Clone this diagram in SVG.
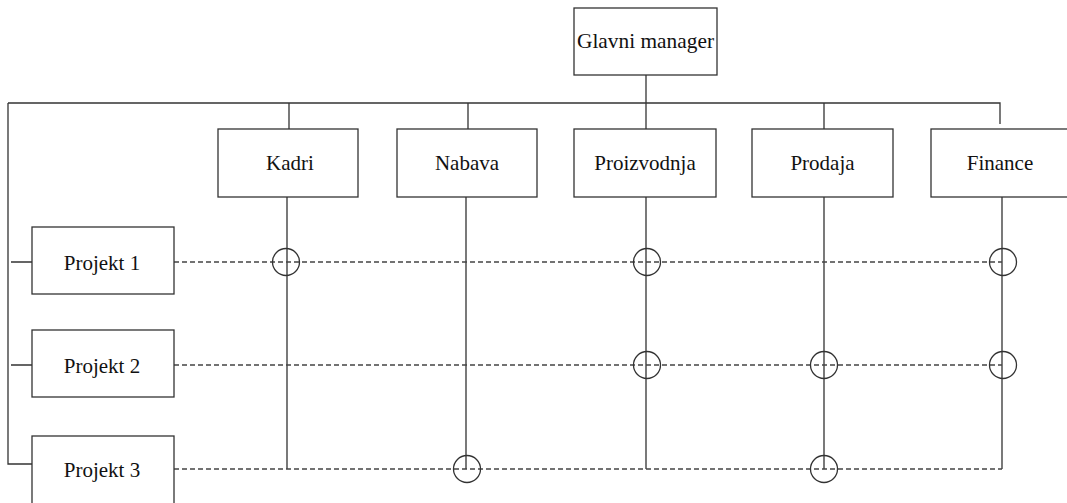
<svg xmlns="http://www.w3.org/2000/svg" width="1067" height="503" viewBox="0 0 1067 503">
<style>
.box{fill:#fff;stroke:#333;stroke-width:1.3}
.t{font-family:"Liberation Serif","Times New Roman",serif;font-size:21px;fill:#111;text-anchor:middle}
.ln{stroke:#333;stroke-width:1.3;fill:none}
.dash{stroke:#444;stroke-width:1.3;stroke-dasharray:5 3;fill:none}
.c{fill:none;stroke:#333;stroke-width:1.3}
</style>
<g id="connectors">
<path class="ln" d="M646 75V129"/>
<path class="ln" d="M8 103H1000V124"/>
<path class="ln" d="M289 103V129M468 103V129M824 103V129"/>
<path class="ln" d="M8 103V464H32"/>
<path class="ln" d="M11 262H32M11 365H32"/>
<path class="ln" d="M287 197V469M466 197V469M646 197V469M824 197V469M1002 197V469"/>
<path class="dash" d="M174 262H1002M174 365H1002M174 469H1002"/>
<circle class="c" cx="286" cy="262" r="13.5"/>
<circle class="c" cx="647" cy="262" r="13.5"/>
<circle class="c" cx="1003" cy="262" r="13.5"/>
<circle class="c" cx="647" cy="365" r="13.5"/>
<circle class="c" cx="824" cy="365" r="13.5"/>
<circle class="c" cx="1003" cy="365" r="13.5"/>
<circle class="c" cx="467" cy="469" r="13.5"/>
<circle class="c" cx="824" cy="469" r="13.5"/>
</g>
<g id="glavni"><rect class="box" x="574" y="8" width="143" height="67"/><text class="t" x="645.5" y="48" textLength="137" lengthAdjust="spacingAndGlyphs">Glavni manager</text></g>
<g id="kadri"><rect class="box" x="218" y="129" width="140" height="68"/><text class="t" x="290" y="170">Kadri</text></g>
<g id="nabava"><rect class="box" x="397" y="129" width="140" height="68"/><text class="t" x="467" y="170">Nabava</text></g>
<g id="proizvodnja"><rect class="box" x="574" y="129" width="142" height="68"/><text class="t" x="645" y="170">Proizvodnja</text></g>
<g id="prodaja"><rect class="box" x="752" y="129" width="141" height="68"/><text class="t" x="822.5" y="170">Prodaja</text></g>
<g id="finance"><rect class="box" x="931" y="129" width="140" height="68"/><text class="t" x="1000" y="170">Finance</text></g>
<g id="projekt1"><rect class="box" x="32" y="227" width="142" height="67"/><text class="t" x="102" y="270">Projekt 1</text></g>
<g id="projekt2"><rect class="box" x="32" y="330" width="142" height="67"/><text class="t" x="102" y="373">Projekt 2</text></g>
<g id="projekt3"><rect class="box" x="32" y="436" width="142" height="70"/><text class="t" x="102" y="477">Projekt 3</text></g>
</svg>
